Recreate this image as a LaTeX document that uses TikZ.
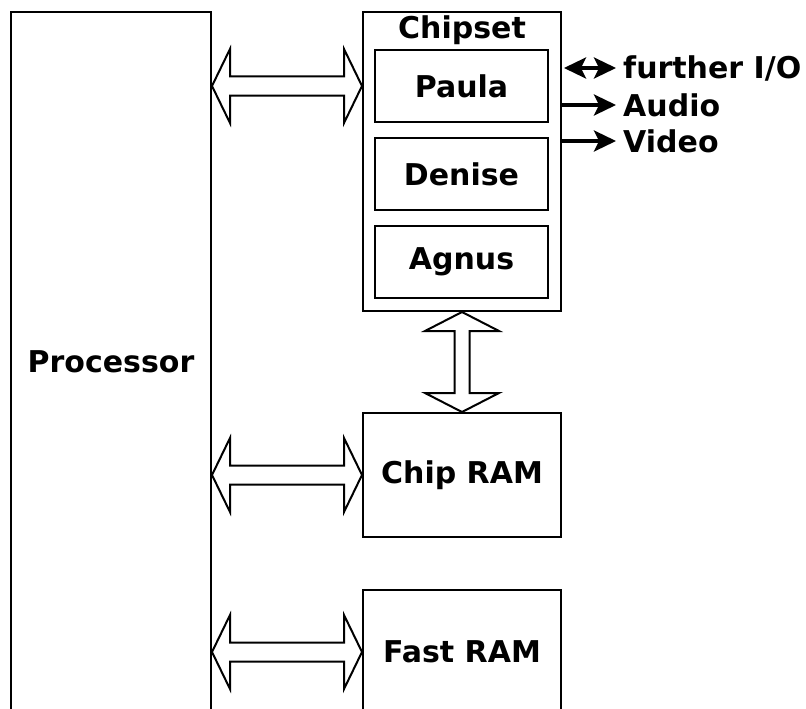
\documentclass[tikz,border=0pt]{standalone}
\usepackage{fontspec}
\setmainfont{DejaVu Sans}
\usetikzlibrary{calc, arrows.meta}

\begin{document}
\begin{tikzpicture}[x=1pt, y=-1pt,
    >={Stealth[length=22pt, width=21pt, inset=5pt]},
    box/.style={draw, line width=2pt, rectangle, inner sep=0pt, font=\bfseries\fontsize{30}{36}\selectfont},
    sub/.style={box, minimum width=173, minimum height=72},
    bus/.style={draw, line width=2pt, fill=white, line join=miter},
    sig/.style={line width=3.5pt},
    lbl/.style={anchor=west, inner sep=0pt, font=\bfseries\fontsize{30}{36}\selectfont}]
    \useasboundingbox (0,0) rectangle (806,709);
    \clip (0,0) rectangle (806,709);
    % boxes
    \node[box, minimum width=200, minimum height=700] (proc) at (111,362) {Processor};
    \node[box, minimum width=198, minimum height=299] (chipset) at (462,161.5) {};
    \node[font=\bfseries\fontsize{30}{36}\selectfont, inner sep=0pt] (chipsetlbl) at (462,30) {Chipset};
    \node[sub] (paula) at (461.5,86) {Paula};
    \node[sub] (denise) at (461.5,174) {Denise};
    \node[sub] (agnus) at (461.5,262) {Agnus};
    \node[box, minimum width=198, minimum height=124] (chipram) at (462,475) {Chip RAM};
    \node[box, minimum width=198, minimum height=124] (fastram) at (462,652) {Fast RAM};
    % bus arrows
    \coordinate (p1) at (proc.east |- paula);
    \coordinate (c1) at (chipset.west |- paula);
    \coordinate (p2) at (proc.east |- chipram);
    \coordinate (c2) at (chipram.west);
    \coordinate (p3) at (proc.east |- fastram);
    \coordinate (c3) at (fastram.west);
    \foreach \a/\b in {p1/c1, p2/c2, p3/c3}
        \draw[bus] (\a) -- ++(18,-37) -- ++(0,27.5) -- ($(\b)+(-18,-9.5)$) -- ++(0,-27.5)
            -- (\b) -- ++(-18,37) -- ++(0,-27.5) -- ($(\a)+(18,9.5)$) -- ++(0,27.5) -- cycle;
    \draw[bus] (chipset.south) -- ++(37,19) -- ++(-29.5,0) -- ($(chipram.north)+(7.5,-19)$)
        -- ++(29.5,0) -- (chipram.north) -- ++(-37,-19) -- ++(29.5,0)
        -- ($(chipset.south)+(-7.5,19)$) -- ++(-29.5,0) -- cycle;
    % outputs
    \node[lbl] (io) at (623,68) {further I/O};
    \node[lbl] (audio) at (623,105) {Audio};
    \node[lbl] (video) at (623,141) {Video};
    \draw[sig, <->] ($(chipset.east |- io)+(2,0)$) -- ($(io.west)+(-7,0)$);
    \draw[sig, ->] (chipset.east |- audio) -- ($(audio.west)+(-7,0)$);
    \draw[sig, ->] (chipset.east |- video) -- ($(video.west)+(-7,0)$);
\end{tikzpicture}
\end{document}
